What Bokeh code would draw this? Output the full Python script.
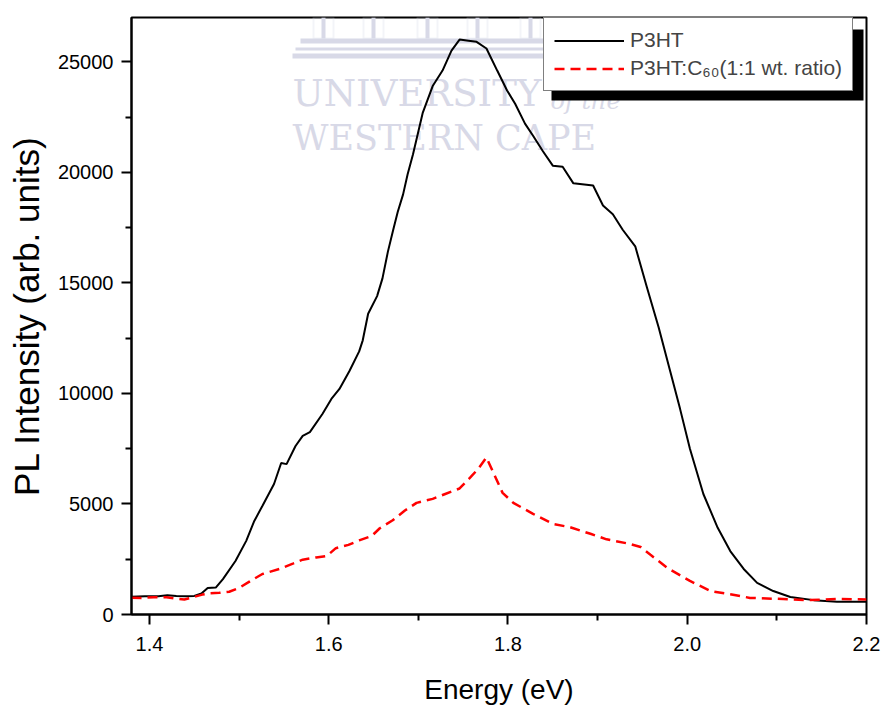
from bokeh.plotting import figure
from bokeh.models import (Range1d, FixedTicker, PrintfTickFormatter, Legend,
                          LegendItem, Label, BoxAnnotation)
from bokeh.embed import file_html
from bokeh.resources import INLINE

# ---------------- data ----------------
p3ht_energy = [1.380, 1.395, 1.410, 1.420, 1.430, 1.440, 1.450, 1.458, 1.465, 1.474,
               1.482, 1.496, 1.508, 1.517, 1.526, 1.539, 1.547, 1.553, 1.563, 1.571,
               1.579, 1.593, 1.603, 1.612, 1.623, 1.634, 1.638, 1.644, 1.654, 1.660,
               1.666, 1.672, 1.677, 1.683, 1.688, 1.694, 1.705, 1.716, 1.727, 1.737,
               1.746, 1.756, 1.765, 1.776, 1.788, 1.799, 1.808, 1.819, 1.828, 1.839,
               1.850, 1.861, 1.873, 1.895, 1.906, 1.917, 1.928, 1.942, 1.955, 1.968,
               1.981, 1.992, 2.003, 2.018, 2.034, 2.048, 2.063, 2.078, 2.096, 2.115,
               2.141, 2.167, 2.200]
p3ht_pl = [800, 820, 830, 870, 840, 820, 840, 950, 1200, 1220,
           1600, 2420, 3330, 4230, 4910, 5900, 6850, 6800, 7620, 8080,
           8250, 9070, 9750, 10200, 11000, 11900, 12400, 13600, 14400, 15200,
           16400, 17400, 18200, 19000, 19900, 20800, 22700, 23900, 24600, 25500,
           26000, 25950, 25900, 25600, 24600, 23700, 23100, 22200, 21650, 20950,
           20300, 20250, 19500, 19400, 18500, 18100, 17400, 16650, 14800, 13000,
           11000, 9300, 7500, 5450, 3920, 2870, 2060, 1430, 1060, 790,
           650, 580, 580]

blend_energy = [1.380, 1.391, 1.405, 1.419, 1.430, 1.439, 1.450, 1.459, 1.468, 1.478,
                1.489, 1.500, 1.512, 1.526, 1.545, 1.560, 1.571, 1.586, 1.598, 1.608,
                1.622, 1.634, 1.648, 1.657, 1.671, 1.685, 1.698, 1.716, 1.730, 1.746,
                1.758, 1.767, 1.776, 1.785, 1.794, 1.806, 1.828, 1.850, 1.869, 1.892,
                1.910, 1.935, 1.948, 1.959, 1.978, 2.003, 2.026, 2.048, 2.070, 2.107,
                2.136, 2.167, 2.200]
blend_pl = [760, 750, 780, 780, 720, 680, 800, 900, 960, 980,
            1030, 1200, 1500, 1830, 2060, 2300, 2480, 2580, 2650, 3000,
            3150, 3350, 3550, 3900, 4250, 4700, 5050, 5230, 5450, 5700,
            6200, 6600, 7100, 6300, 5500, 5050, 4550, 4100, 3950, 3650,
            3400, 3200, 3050, 2700, 2100, 1520, 1060, 920, 750, 700,
            650, 700, 680]

x_ticks = [1.4, 1.6, 1.8, 2.0, 2.2]
x_minor = [1.5, 1.7, 1.9, 2.1]
y_ticks = [0, 5000, 10000, 15000, 20000, 25000]
y_minor = [2500, 7500, 12500, 17500, 22500]

label_p3ht = "P3HT"
label_blend = "P3HT:C\u2086\u2080(1:1 wt. ratio)"

# ---------------- layout ----------------
W, H = 885, 707
FL, FR, FT, FB = 131, 866, 17, 614
X0, X1, Y0, Y1 = 1.38, 2.2, 0, 27000
FONT = "Liberation Sans"


def dx(px):
    return X0 + (px - FL) / (FR - FL) * (X1 - X0)


def dy(py):
    return Y0 + (FB - py) / (FB - FT) * (Y1 - Y0)


p = figure(width=W, height=H, output_backend="svg", toolbar_location=None,
           x_range=Range1d(X0, X1), y_range=Range1d(Y0, Y1),
           min_border_left=FL, min_border_right=W - FR,
           min_border_top=FT, min_border_bottom=H - FB)
p.xgrid.visible = False
p.ygrid.visible = False
p.background_fill_color = "white"
p.border_fill_color = "white"
p.outline_line_color = "black"
p.outline_line_width = 2

# ---------------- watermark ----------------
WM = "#d8d9e7"
for cx in [313, 363, 417, 467, 520, 570]:
    p.add_layout(BoxAnnotation(left=dx(cx), right=dx(cx + 20), top=dy(FT), bottom=dy(38),
                               fill_alpha=0, line_color=WM, line_width=2, level="underlay"))
    p.add_layout(BoxAnnotation(left=dx(cx + 8), right=dx(cx + 12), top=dy(FT), bottom=dy(38),
                               fill_color=WM, fill_alpha=1, line_alpha=0, level="underlay"))
for (x_a, x_b, y_a, y_b) in [(300, 600, 38, 43), (295, 605, 47, 50), (292, 610, 53, 58)]:
    p.add_layout(BoxAnnotation(left=dx(x_a), right=dx(x_b), top=dy(y_a), bottom=dy(y_b),
                               fill_color=WM, fill_alpha=1, line_alpha=0, level="underlay"))
p.add_layout(Label(x=dx(292), y=dy(114), text="UNIVERSITY", text_font="DejaVu Serif",
                   text_font_size="37px", text_color=WM, level="underlay"))
p.add_layout(Label(x=dx(550), y=dy(114), text="of the", text_font="DejaVu Serif",
                   text_font_style="italic", text_font_size="24px", text_color=WM,
                   level="underlay"))
p.add_layout(Label(x=dx(292), y=dy(157), text="WESTERN CAPE", text_font="DejaVu Serif",
                   text_font_size="35px", text_color=WM, level="underlay"))

# ---------------- data lines ----------------
r1 = p.line(p3ht_energy, p3ht_pl, line_color="black", line_width=2)
r2 = p.line(blend_energy, blend_pl, line_color="#ff0000", line_width=2.5, line_dash="10 6")

# ---------------- axes ----------------
p.xaxis.ticker = FixedTicker(ticks=x_ticks, minor_ticks=x_minor)
p.yaxis.ticker = FixedTicker(ticks=y_ticks, minor_ticks=y_minor)
p.xaxis.formatter = PrintfTickFormatter(format="%.1f")
p.xaxis.axis_label = "Energy (eV)"
p.yaxis.axis_label = "PL Intensity (arb. units)"
for ax in (p.xaxis, p.yaxis):
    ax.axis_line_width = 2
    ax.axis_line_color = "black"
    ax.major_tick_line_width = 2
    ax.minor_tick_line_width = 2
    ax.major_tick_in = 0
    ax.major_tick_out = 10
    ax.minor_tick_in = 0
    ax.minor_tick_out = 6
    ax.major_label_text_font = FONT
    ax.major_label_text_font_size = "20px"
    ax.major_label_text_color = "black"
    ax.axis_label_text_font = FONT
    ax.axis_label_text_font_style = "normal"
    ax.axis_label_text_color = "black"
p.xaxis.axis_label_text_font_size = "28px"
p.yaxis.axis_label_text_font_size = "35px"
p.xaxis.major_label_standoff = 12
p.xaxis.axis_label_standoff = 20
p.yaxis.major_label_standoff = 8
p.yaxis.axis_label_standoff = 9

# ---------------- legend with drop shadow ----------------
p.add_layout(BoxAnnotation(left=dx(551), right=dx(863), top=dy(29), bottom=dy(100),
                           fill_color="black", fill_alpha=1, line_alpha=0))
legend = Legend(items=[LegendItem(label=label_p3ht, renderers=[r1]),
                       LegendItem(label=label_blend, renderers=[r2])],
                location=(543 - FL, FB - 91), margin=0, padding=10, spacing=4,
                glyph_width=70, glyph_height=23, label_height=23, label_standoff=6,
                label_text_font=FONT, label_text_font_size="21px",
                border_line_color="black", border_line_width=1.5,
                background_fill_color="white", background_fill_alpha=1)
p.add_layout(legend)

open("out.html", "w").write(file_html(p, INLINE))
